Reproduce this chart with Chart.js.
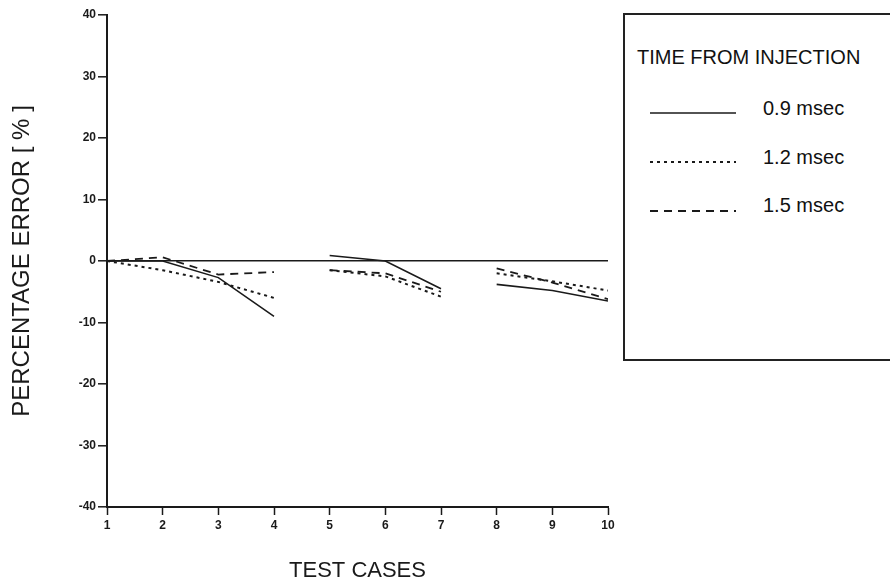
<!DOCTYPE html>
<html>
<head>
<meta charset="utf-8">
<script src="https://cdn.jsdelivr.net/npm/chart.js@4/dist/chart.umd.min.js"></script>
<style>
  html, body { margin: 0; padding: 0; background: #fff; }
  #wrap { position: relative; width: 890px; height: 585px; overflow: hidden; }
  #legend { position: absolute; left: 623px; top: 13px; width: 300px; height: 348px;
            border: 2px solid #222; box-sizing: border-box; background: #fff;
            font-family: 'Liberation Sans', Arial, sans-serif; color: #111; }
  .lt { position: absolute; white-space: nowrap; line-height: 1; }
  .ls { position: absolute; }
</style>
</head>
<body>
<div id="wrap">
  <canvas id="c" width="890" height="585"></canvas>
  <div id="legend"></div>
</div>
<script>
// ---- data ----
const testCases   = [1, 2, 3, 4, 5, 6, 7, 8, 9, 10];
const caseGroups  = [1, 1, 1, 1, 2, 2, 2, 3, 3, 3];
const err09 = [0, 0, -2.7, -9.0, 0.9, 0, -4.5, -3.8, -4.8, -6.5];
const err12 = [0, -1.5, -3.4, -6.0, -1.5, -2.5, -5.8, -2.0, -3.3, -4.8];
const err15 = [0, 0.6, -2.2, -1.8, -1.5, -2.0, -5.0, -1.2, -3.5, -6.2];
const seriesLabels = ['0.9 msec', '1.2 msec', '1.5 msec'];
const legendTitle = 'TIME FROM INJECTION';
const yTicks = [-40, -30, -20, -10, 0, 10, 20, 30, 40];
const xTitle = 'TEST CASES';
const yTitle = 'PERCENTAGE ERROR [ % ]';

const INK = '#1a1a1a';
const dashes = [[], [3, 4], [8, 6]];
const widths = [1.6, 2, 1.8];
const seriesValues = [err09, err12, err15];

const datasets = seriesValues.map((vals, i) => ({
  label: seriesLabels[i],
  data: testCases.map((x, k) => ({ x: x, y: vals[k] })),
  borderColor: INK,
  borderWidth: widths[i],
  borderDash: dashes[i],
  pointRadius: 0,
  fill: false,
  tension: 0,
  segment: {
    borderColor: ctx => caseGroups[ctx.p0DataIndex] !== caseGroups[ctx.p1DataIndex] ? 'rgba(0,0,0,0)' : undefined
  }
}));

const tickFont = { family: "'Liberation Sans', Arial, sans-serif", size: 12, weight: 'bold' };
const xTitleFont = { family: "'Liberation Sans', Arial, sans-serif", size: 22, weight: 'normal' };
const yTitleFont = { family: "'Liberation Sans', Arial, sans-serif", size: 24, weight: 'normal' };

new Chart(document.getElementById('c'), {
  type: 'line',
  data: { datasets },
  options: {
    responsive: false,
    animation: false,
    events: [],
    layout: { padding: { left: 0, top: 15, right: 282, bottom: 0 } },
    plugins: { legend: { display: false }, tooltip: { enabled: false } },
    scales: {
      x: {
        type: 'linear', min: 1, max: 10,
        afterBuildTicks: s => { s.ticks = testCases.map(v => ({ value: v })); },
        ticks: { font: tickFont, color: INK, padding: 3, maxRotation: 0, autoSkip: false },
        grid: { drawOnChartArea: false, tickLength: 8, tickColor: INK, tickWidth: 1.5 },
        border: { display: true, color: INK, width: 2 },
        title: { display: true, text: xTitle, font: xTitleFont, color: INK, padding: { top: 0, bottom: 1 } },
        afterFit: s => { s.height = 78; }
      },
      y: {
        min: -40, max: 40,
        afterBuildTicks: s => { s.ticks = yTicks.map(v => ({ value: v })); },
        ticks: { font: tickFont, color: INK, padding: 2 },
        grid: {
          drawOnChartArea: true,
          color: c => (c.tick && c.tick.value === 0) ? INK : 'rgba(0,0,0,0)',
          lineWidth: 1.6,
          tickColor: INK, tickWidth: 1.5, tickLength: 9
        },
        border: { display: true, color: INK, width: 2 },
        title: { display: true, text: yTitle, font: yTitleFont, color: INK, padding: { top: 8, bottom: 0 } },
        afterFit: s => { s.width = 107; }
      }
    }
  }
});

// ---- HTML legend ----
const lg = document.getElementById('legend');
const L = 623, T = 13;
function addText(txt, x, yc, size) {
  const d = document.createElement('div');
  d.className = 'lt';
  d.textContent = txt;
  d.style.fontSize = size + 'px';
  d.style.left = (x - L - 2) + 'px';
  d.style.top = (yc - T - 2 - size * 0.5) + 'px';
  lg.appendChild(d);
}
addText(legendTitle, 637, 57, 20);
const rowY = [113, 162, 211];
const textY = [108, 157, 205];
seriesLabels.forEach((lab, i) => {
  const svgNS = 'http://www.w3.org/2000/svg';
  const svg = document.createElementNS(svgNS, 'svg');
  svg.setAttribute('class', 'ls');
  svg.setAttribute('width', 100);
  svg.setAttribute('height', 10);
  svg.style.left = (648 - L - 2) + 'px';
  svg.style.top = (rowY[i] - 5 - T - 2) + 'px';
  const ln = document.createElementNS(svgNS, 'line');
  ln.setAttribute('x1', 2); ln.setAttribute('x2', 88);
  ln.setAttribute('y1', 5); ln.setAttribute('y2', 5);
  ln.setAttribute('stroke', INK);
  ln.setAttribute('stroke-width', widths[i]);
  if (dashes[i].length) ln.setAttribute('stroke-dasharray', dashes[i].join(' '));
  svg.appendChild(ln);
  lg.appendChild(svg);
  addText(lab, 763, textY[i], 20);
});
</script>
</body>
</html>
